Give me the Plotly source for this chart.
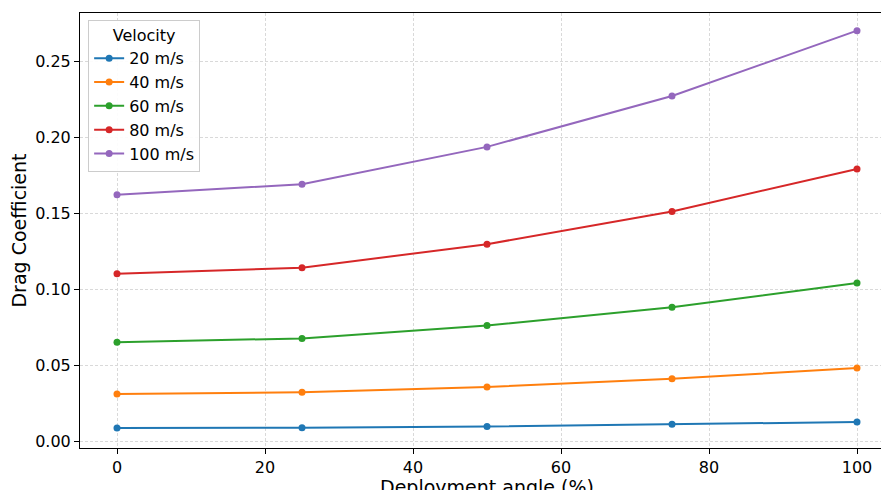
import plotly.graph_objects as go

angles = [0, 25, 50, 75, 100]
labels = ["20 m/s", "40 m/s", "60 m/s", "80 m/s", "100 m/s"]
v20 = [0.0086, 0.0088, 0.0096, 0.0110, 0.0125]
v40 = [0.031, 0.032, 0.0355, 0.041, 0.048]
v60 = [0.065, 0.0675, 0.076, 0.088, 0.104]
v80 = [0.110, 0.114, 0.1295, 0.151, 0.179]
v100 = [0.162, 0.169, 0.1935, 0.227, 0.270]
colors = ["#1f77b4", "#ff7f0e", "#2ca02c", "#d62728", "#9467bd"]

fig = go.Figure()
for name, vals, c in zip(labels, [v20, v40, v60, v80, v100], colors):
    fig.add_trace(go.Scatter(x=angles, y=vals, name=name, mode="lines+markers",
                             line=dict(color=c, width=2), marker=dict(size=7, color=c)))

axis_style = dict(showline=True, linecolor="black", linewidth=1, mirror=True,
                  ticks="outside", ticklen=5, tickcolor="black", automargin=False,
                  showgrid=True, gridcolor="#d9d9d9", griddash="3px,2px", zeroline=False,
                  tickfont=dict(size=16, color="black"))
fig.update_xaxes(range=[-5, 105], tickvals=[0, 20, 40, 60, 80, 100],
                 title=dict(text="Deployment angle (%)", font=dict(size=19, color="black"), standoff=6),
                 **axis_style)
fig.update_yaxes(range=[-0.0046, 0.2816], tickvals=[0, 0.05, 0.1, 0.15, 0.2, 0.25],
                 tickformat=".2f",
                 title=dict(text="Drag Coefficient", font=dict(size=19, color="black"), standoff=8),
                 **axis_style)
fig.update_layout(
    width=889, height=490, plot_bgcolor="white", paper_bgcolor="white",
    font=dict(family="DejaVu Sans", color="black"),
    margin=dict(l=72, r=3, t=5, b=50, autoexpand=False),
    legend=dict(x=0.01, y=0.985, xanchor="left", yanchor="top",
                title=dict(text="Velocity", side="top center", font=dict(size=16)),
                font=dict(size=16), bgcolor="rgba(255,255,255,0.9)",
                bordercolor="#cccccc", borderwidth=1),
    showlegend=True,
)
fig.write_html("out.html")
